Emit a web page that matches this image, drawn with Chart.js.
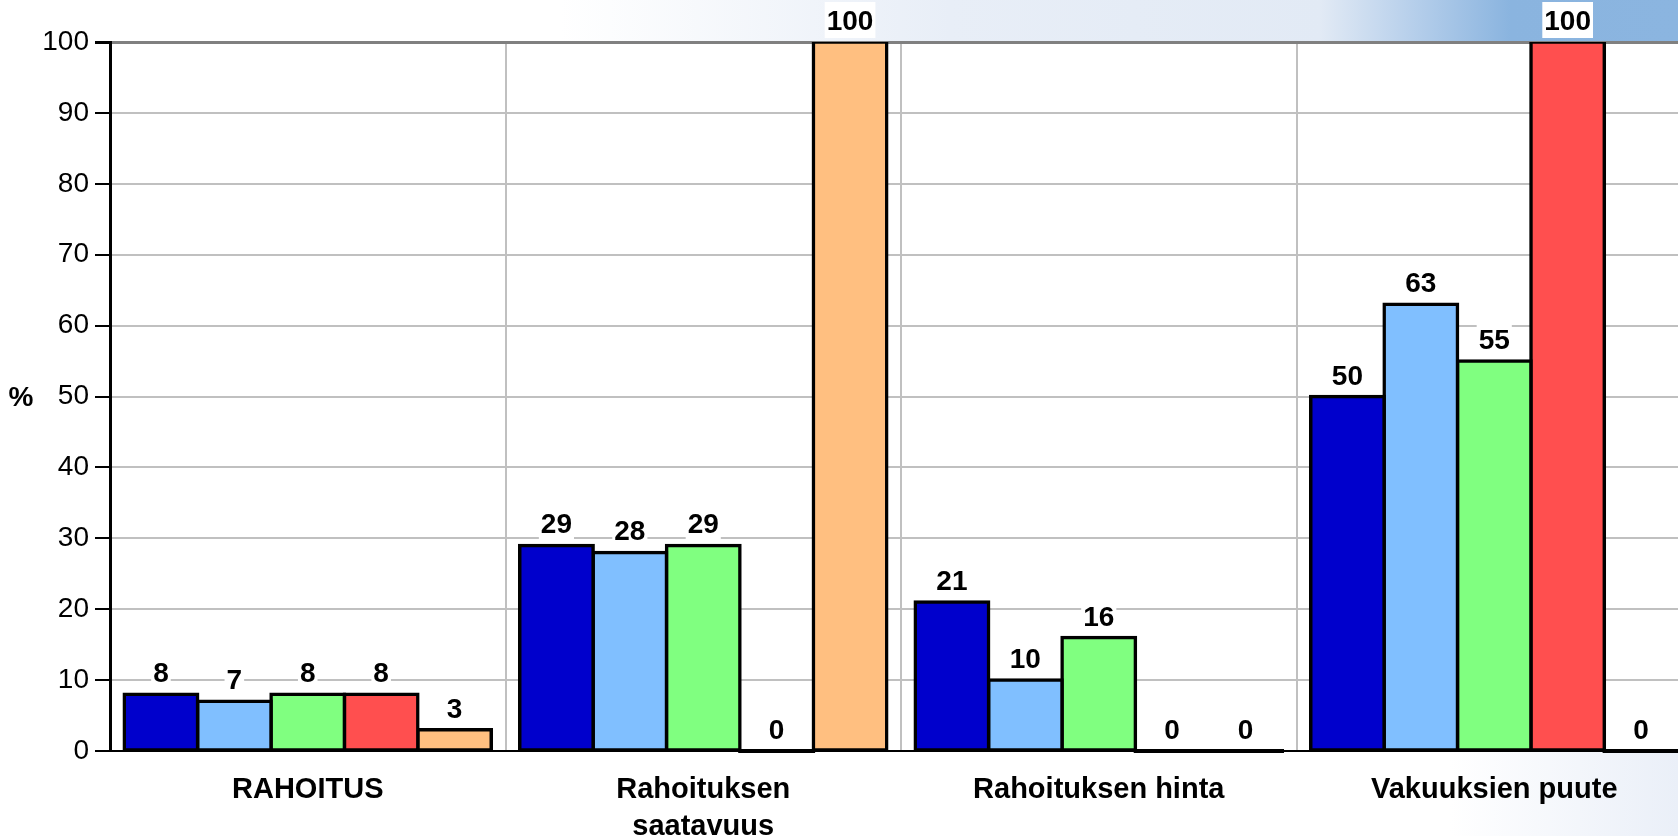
<!DOCTYPE html>
<html>
<head>
<meta charset="utf-8">
<script src="https://cdn.jsdelivr.net/npm/chart.js@4/dist/chart.umd.min.js"></script>
<style>
  html, body { margin: 0; padding: 0; overflow: hidden; }
  body {
    width: 1678px; height: 836px;
    background:
      linear-gradient(to right, #ffffff 0px, #ffffff 560px, #e8eef7 950px, #e2eaf5 1320px, #b3cdea 1420px, #8ab4df 1510px, #8bb5e0 1678px) top / 100% 42px no-repeat,
      linear-gradient(to right, #ffffff 0px, #ffffff 1450px, #eaeff8 1678px) bottom / 100% 85px no-repeat,
      #ffffff;
  }
  #wrap { position: absolute; left: 0; top: 0; width: 1720px; height: 836px; }
</style>
</head>
<body>
<div id="wrap"><canvas id="chart"></canvas></div>
<script>
// Kategoriat ja sarjat
const categories = ['RAHOITUS', ['Rahoituksen', 'saatavuus'], 'Rahoituksen hinta', 'Vakuuksien puute'];
const series1 = [8, 29, 21, 50];
const series2 = [7, 28, 10, 63];
const series3 = [8, 29, 16, 55];
const series4 = [8, 0, 0, 100];
const series5 = [3, 100, 0, 0];
const seriesColors = ['#0000cc', '#80bfff', '#80ff80', '#ff4f4f', '#ffbf80'];
const yTicks = [0, 10, 20, 30, 40, 50, 60, 70, 80, 90, 100];

const FONT = "'Liberation Sans', Arial, sans-serif";

// Valkoinen kuvaaja-alue
const areaBg = {
    id: 'areaBg',
    beforeDraw(chart) {
        const { ctx, chartArea: a } = chart;
        ctx.save();
        ctx.fillStyle = '#ffffff';
        ctx.fillRect(0, a.top, a.right, a.bottom - a.top);
        ctx.restore();
    }
};

// Nollapylväät mustana viivana + arvot pylväiden päälle
const barLabels = {
    id: 'barLabels',
    afterDatasetsDraw(chart) {
        const { ctx } = chart;
        ctx.save();
        chart.data.datasets.forEach((ds, i) => {
            chart.getDatasetMeta(i).data.forEach((bar, j) => {
                if (ds.data[j] === 0) {
                    ctx.fillStyle = '#000';
                    ctx.fillRect(bar.x - bar.width / 2 - 1.75, bar.base - 2, bar.width + 3.5, 4);
                }
            });
        });
        ctx.font = 'bold 28px ' + FONT;
        ctx.textAlign = 'center';
        ctx.textBaseline = 'alphabetic';
        chart.data.datasets.forEach((ds, i) => {
            chart.getDatasetMeta(i).data.forEach((bar, j) => {
                const txt = String(ds.data[j]);
                const y = bar.y - 12;
                const w = ctx.measureText(txt).width;
                ctx.fillStyle = '#ffffff';
                ctx.fillRect(bar.x - w / 2 - 2, y - 28, w + 4, 36);
                ctx.fillStyle = '#000';
                ctx.fillText(txt, bar.x, y);
            });
        });
        // akselin otsikko
        ctx.fillText('%', 21, 406);
        ctx.restore();
    }
};

const ctx = document.getElementById('chart').getContext('2d');
new Chart(ctx, {
    type: 'bar',
    data: {
        labels: categories,
        datasets: [series1, series2, series3, series4, series5].map((d, i) => ({
            data: d,
            backgroundColor: seriesColors[i],
            borderColor: '#000',
            borderWidth: 3.5,
            borderSkipped: false,
            inflateAmount: 1.75,
            categoryPercentage: 0.928,
            barPercentage: 1.0
        }))
    },
    options: {
        responsive: true,
        maintainAspectRatio: false,
        animation: false,
        layout: { padding: { top: 42, right: 28, left: 0, bottom: 0 } },
        plugins: { legend: { display: false }, tooltip: { enabled: false } },
        scales: {
            x: {
                grid: { offset: true, color: '#c0c0c0', lineWidth: 2, drawTicks: false },
                border: { color: '#000', width: 2 },
                ticks: { color: '#000', font: { family: FONT, size: 29, weight: 'bold', lineHeight: 1.27 }, padding: 21, maxRotation: 0 },
                afterFit(scale) { scale.height = 85; }
            },
            y: {
                min: 0,
                max: 100,
                afterBuildTicks(scale) { scale.ticks = yTicks.map(v => ({ value: v })); },
                grid: {
                    color: c => c.tick && c.tick.value === 100 ? '#808080' : '#c0c0c0',
                    lineWidth: c => c.tick && c.tick.value === 100 ? 3 : 2,
                    tickColor: '#000',
                    tickLength: 15
                },
                border: { color: '#000', width: 3 },
                ticks: { color: '#000', font: { family: FONT, size: 28 }, padding: 6 },
                afterFit(scale) { scale.width = 110; }
            }
        }
    },
    plugins: [areaBg, barLabels]
});
</script>
</body>
</html>
